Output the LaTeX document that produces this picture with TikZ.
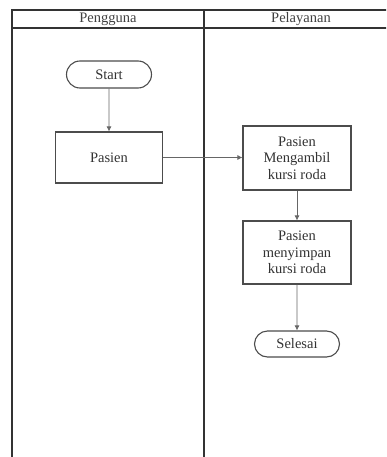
\documentclass[tikz,border=0pt]{standalone}
\usepackage{fontspec}
\setmainfont{Liberation Serif}
\usetikzlibrary{arrows.meta,shapes.misc}
\begin{document}
\begin{tikzpicture}[x=1pt,y=-1pt,
  lane/.style={draw=black!80,line width=1.6pt},
  lanetitle/.style={text=black!75,font=\fontsize{14.5}{17}\selectfont},
  proc/.style={draw=black!70,line width=1.1pt,fill=white,align=center,
    text=black!80,font=\fontsize{14.5}{16.7}\selectfont,inner sep=2pt},
  term/.style={proc,rounded rectangle},
  flow/.style={draw=black!60,line width=0.7pt,-{Latex[length=5pt,width=5pt]}}]
\useasboundingbox (0,0) rectangle (386,457);
\clip (0,0) rectangle (386,457);
% swimlane frame
\draw[lane] (12,480) -- (12,10) -- (400,10);
\draw[lane] (12,28) -- (400,28);
\draw[lane] (204,10) -- (204,480);
\node[lanetitle] (hUser) at (108,19) {Pengguna};
\node[lanetitle] (hSvc) at (301,19) {Pelayanan};
% flow steps
\node[term,minimum width=89pt,minimum height=27pt] (start) at (109,74.5) {Start};
\node[proc,minimum width=107pt,minimum height=51pt] (pasien) at (109,157.5) {Pasien};
\node[proc,minimum width=108pt,minimum height=64pt] (ambil) at (297,158) {Pasien\\Mengambil\\kursi roda};
\node[proc,minimum width=108pt,minimum height=63pt] (simpan) at (297,252.5) {Pasien\\menyimpan\\kursi roda};
\node[term,minimum width=89pt,minimum height=26pt] (selesai) at (297,344) {Selesai};
% connectors
\draw[flow] (start) -- (pasien);
\draw[flow] (pasien.east) -- (pasien.east -| ambil.west);
\draw[flow] (ambil) -- (simpan);
\draw[flow] (simpan) -- (selesai);
\end{tikzpicture}
\end{document}
